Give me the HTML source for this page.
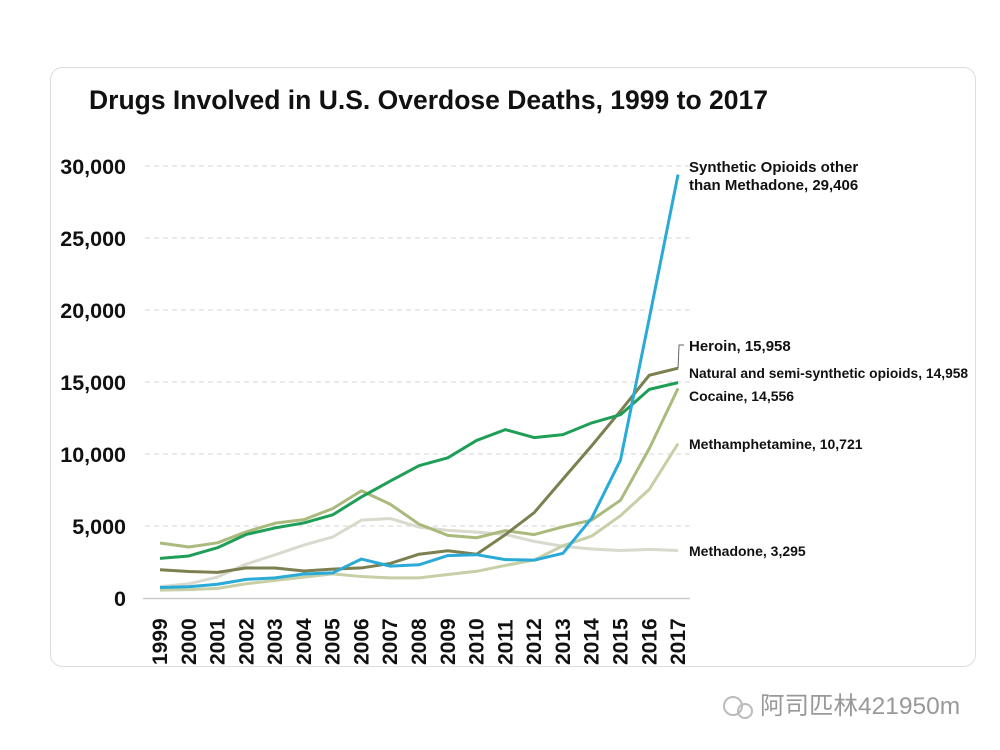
<!DOCTYPE html>
<html><head><meta charset="utf-8"><style>
body{margin:0;background:#fff;width:1000px;height:750px;overflow:hidden;font-family:"Liberation Sans","Noto Sans CJK SC",sans-serif}
</style></head><body>
<svg width="1000" height="750" viewBox="0 0 1000 750" style="position:absolute;left:0;top:0">
<rect x="50.5" y="67.5" width="925" height="599" rx="12" fill="#fff" stroke="#dcdcdc"/>
<text x="89" y="109" font-size="26.5" font-weight="bold" fill="#111" font-family="Liberation Sans, sans-serif">Drugs Involved in U.S. Overdose Deaths, 1999 to 2017</text>
<g id="grid"></g><g id="axes"></g><g id="lines"></g><g id="labels"></g>
<g>
<circle cx="733" cy="706" r="9" fill="none" stroke="#bbb" stroke-width="2"/>
<circle cx="745" cy="711" r="7" fill="none" stroke="#bbb" stroke-width="2"/>
<text x="760" y="714" font-size="24.5" fill="#999" font-family="Liberation Sans, Noto Sans CJK SC, sans-serif">阿司匹林421950m</text>
</g>
</svg>
<script>
const years=[1999,2000,2001,2002,2003,2004,2005,2006,2007,2008,2009,2010,2011,2012,2013,2014,2015,2016,2017];
const yTicks=[0,5000,10000,15000,20000,25000,30000];
const yTickLabels=["0","5,000","10,000","15,000","20,000","25,000","30,000"];
const methadone=[784,986,1456,2358,3000,3675,4237,5406,5518,4924,4696,4577,4418,3932,3591,3400,3301,3373,3295];
const meth=[547,578,668,990,1226,1445,1677,1489,1397,1396,1632,1854,2262,2635,3627,4298,5716,7542,10721];
const cocaine=[3822,3544,3833,4599,5199,5443,6208,7448,6512,5129,4350,4183,4681,4404,4944,5415,6784,10375,14556];
const heroin=[1960,1842,1779,2089,2080,1878,2009,2088,2399,3041,3278,3036,4397,5925,8257,10574,12989,15469,15958];
const natural=[2749,2917,3491,4416,4867,5212,5774,7017,8118,9190,9737,10943,11693,11140,11346,12159,12727,14487,14958];
const synthetic=[730,782,957,1295,1400,1664,1742,2707,2213,2306,2946,3007,2666,2628,3105,5544,9580,19413,29406];
const NS="http://www.w3.org/2000/svg";
const x=i=>160+i*28.78, y=v=>598-v*0.0144;
function mk(t,a,p){const e=document.createElementNS(NS,t);for(const k in a)e.setAttribute(k,a[k]);document.getElementById(p).appendChild(e);return e;}
yTicks.forEach((t,i)=>{
 if(t>0){const g=mk('line',{x1:145,x2:690,y1:y(t),y2:y(t),stroke:'#d4d4d4','stroke-dasharray':'5,4'},'grid');
 
 }
 const l=mk('text',{x:126,y:y(t)+8,'text-anchor':'end','font-size':21.5,'font-weight':'bold',fill:'#111','font-family':'Liberation Sans, sans-serif'},'axes');
 l.textContent=yTickLabels[i];
 
 
});
const b=mk('line',{x1:143,x2:690,y1:598.5,y2:598.5,stroke:'#ccc','stroke-width':1.5},'axes');


years.forEach((yr,i)=>{
 const t=mk('text',{transform:`translate(${x(i)+7},${665}) rotate(-90)`,'font-size':21,'font-weight':'bold',fill:'#111','font-family':'Liberation Sans, sans-serif'},'axes');
 t.textContent=yr;
 
 
});
const series=[[methadone,'#d9dacd','methadone-line'],[meth,'#c6cfa6','methamphetamine-line'],[cocaine,'#a9ba7c','cocaine-line'],[heroin,'#7c7f4f','heroin-line'],[natural,'#1f9e57','natural-semisynthetic-line'],[synthetic,'#2aaad6','synthetic-opioids-line']];
series.forEach(([d,c,n])=>{
 const p=mk('polyline',{points:d.map((v,i)=>x(i)+','+y(v)).join(' '),fill:'none',stroke:c,'stroke-width':3,'stroke-linejoin':'round'},'lines');
 
 
});
const lx=x(18);
const ld=mk('polyline',{points:`${lx},${y(heroin[18])} ${lx+1},345 ${lx+6},345`,fill:'none',stroke:'#666','stroke-width':1},'labels');


const labs=[["Synthetic Opioids other",172,'synthetic-label',15],["than Methadone, 29,406",190,'synthetic-label-2',15],["Heroin, 15,958",351,'heroin-label',15],["Natural and semi-synthetic opioids, 14,958",378,'natural-label',13.8],["Cocaine, 14,556",401,'cocaine-label',14],["Methamphetamine, 10,721",449,'methamphetamine-label',14],["Methadone, 3,295",556,'methadone-label',14]];
labs.forEach(([s,yy,n,fs])=>{
 const t=mk('text',{x:689,y:yy,'font-size':fs,'font-weight':'bold',fill:'#111','font-family':'Liberation Sans, sans-serif'},'labels');
 t.textContent=s;
 
 
});
</script>
</body></html>
